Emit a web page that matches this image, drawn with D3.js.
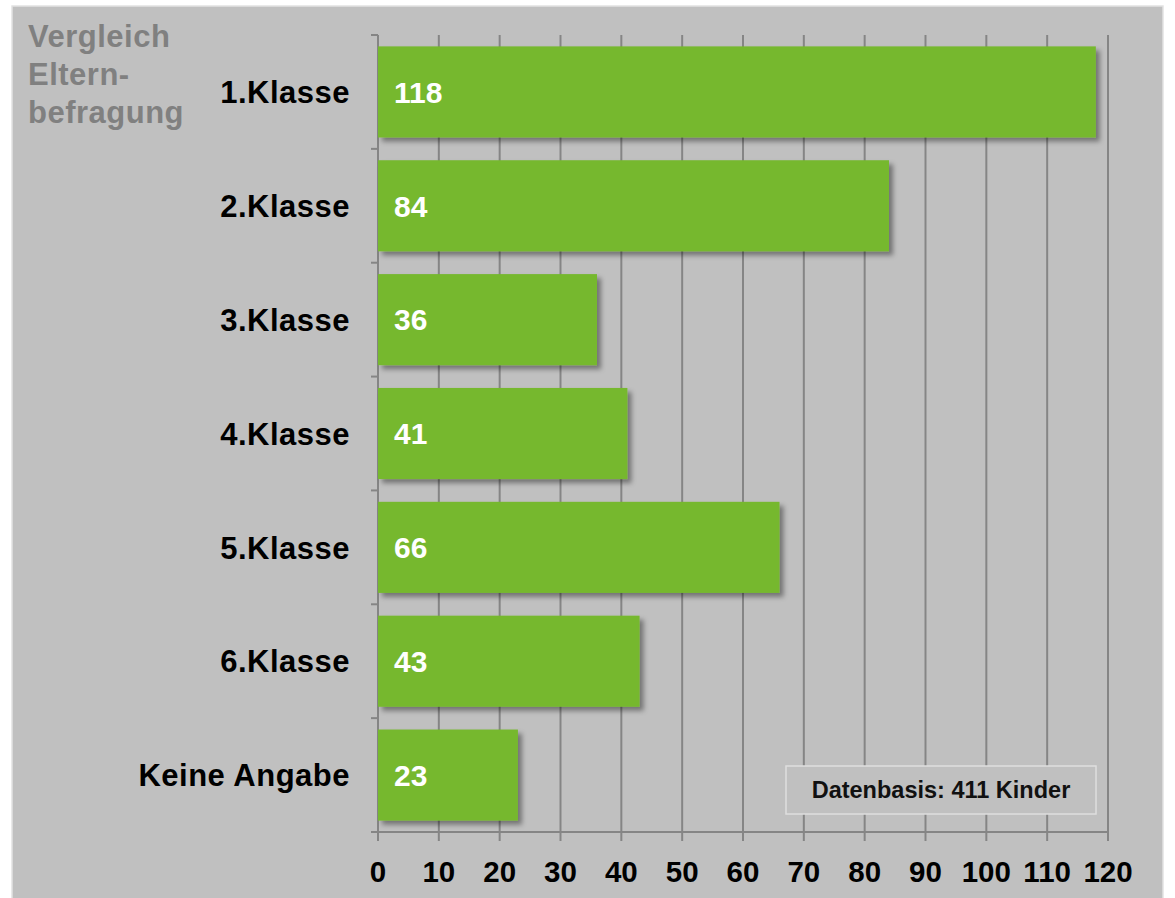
<!DOCTYPE html>
<html><head><meta charset="utf-8">
<script src="https://cdn.jsdelivr.net/npm/d3@7"></script>
<style>html,body{margin:0;padding:0;background:#fff;}svg{display:block;font-family:"Liberation Sans",Arial,sans-serif;}</style>
</head><body>
<svg id="c" width="1175" height="898"></svg>
<script>
const categories = ["1.Klasse","2.Klasse","3.Klasse","4.Klasse","5.Klasse","6.Klasse","Keine Angabe"];
const values = [118,84,36,41,66,43,23];
const xTicks = [0,10,20,30,40,50,60,70,80,90,100,110,120];
const titleLines = ["Vergleich","Eltern-","befragung"];
const noteText = "Datenbasis: 411 Kinder";

const svg = d3.select("#c");
const defs = svg.append("defs");
const f = defs.append("filter").attr("id","sh").attr("x","-10%").attr("y","-10%").attr("width","130%").attr("height","140%");
f.append("feDropShadow").attr("dx",4).attr("dy",4).attr("stdDeviation",2.5).attr("flood-color","#000").attr("flood-opacity",0.4);

svg.append("rect").attr("x",12).attr("y",6).attr("width",1151).attr("height",900)
  .attr("fill","#c0c0c0").attr("stroke","#e2e2e2").attr("stroke-width",1.5);

const m = {l:378, r:1108, t:35, b:832};
const x = d3.scaleLinear().domain([0,120]).range([m.l,m.r]);
const y = d3.scaleBand().domain(categories).range([m.t,m.b]).paddingInner(0.2).paddingOuter(0.1);

// grid
svg.append("g").selectAll("line").data(xTicks.slice(1)).join("line")
  .attr("x1",d=>x(d)).attr("x2",d=>x(d)).attr("y1",m.t).attr("y2",m.b+9)
  .attr("stroke","#858585").attr("stroke-width",2);

// y axis line + ticks
const yTickPos = d3.range(categories.length+1).map(i=>m.t + i*(m.b-m.t)/categories.length);
svg.append("line").attr("x1",m.l).attr("x2",m.l).attr("y1",m.t).attr("y2",m.b+9).attr("stroke","#858585").attr("stroke-width",2);
svg.append("g").selectAll("line").data(yTickPos).join("line")
  .attr("x1",m.l-7).attr("x2",m.l).attr("y1",d=>d).attr("y2",d=>d).attr("stroke","#858585").attr("stroke-width",2);
// x axis line
svg.append("line").attr("x1",m.l-7).attr("x2",m.r).attr("y1",m.b).attr("y2",m.b).attr("stroke","#858585").attr("stroke-width",2);

// bars
svg.append("g").selectAll("rect").data(values).join("rect")
  .attr("x",x(0)).attr("y",(d,i)=>y(categories[i]))
  .attr("width",d=>x(d)-x(0)).attr("height",y.bandwidth())
  .attr("fill","#76b82e").attr("filter","url(#sh)");

// value labels
svg.append("g").selectAll("text").data(values).join("text")
  .attr("x",x(0)+16).attr("y",(d,i)=>y(categories[i])+y.bandwidth()/2)
  .attr("dy","0.36em").attr("fill","#fff").attr("font-weight","bold").attr("font-size",30)
  .text(d=>d);

// category labels
svg.append("g").selectAll("text").data(categories).join("text")
  .attr("x",350).attr("y",d=>y(d)+y.bandwidth()/2).attr("dy","0.36em")
  .attr("text-anchor","end").attr("font-weight","bold").attr("font-size",31).attr("letter-spacing",0.5).attr("fill","#000")
  .text(d=>d);

// x tick labels
svg.append("g").selectAll("text").data(xTicks).join("text")
  .attr("x",d=>x(d)).attr("y",871).attr("dy","0.36em").attr("text-anchor","middle")
  .attr("font-weight","bold").attr("font-size",29.5).attr("fill","#000")
  .text(d=>d);

// title
svg.append("g").selectAll("text").data(titleLines).join("text")
  .attr("x",28).attr("y",(d,i)=>47+i*38).attr("font-weight","bold").attr("font-size",31).attr("letter-spacing",0.5)
  .attr("fill","#808080").text(d=>d);

// note box
svg.append("rect").attr("x",786).attr("y",766).attr("width",310).attr("height",48)
  .attr("fill","#c0c0c0").attr("stroke","#dedede").attr("stroke-width",1.5);
svg.append("text").attr("x",941).attr("y",790).attr("dy","0.36em").attr("text-anchor","middle")
  .attr("font-weight","bold").attr("font-size",23.5).attr("fill","#111").text(noteText);
</script>
</body></html>
